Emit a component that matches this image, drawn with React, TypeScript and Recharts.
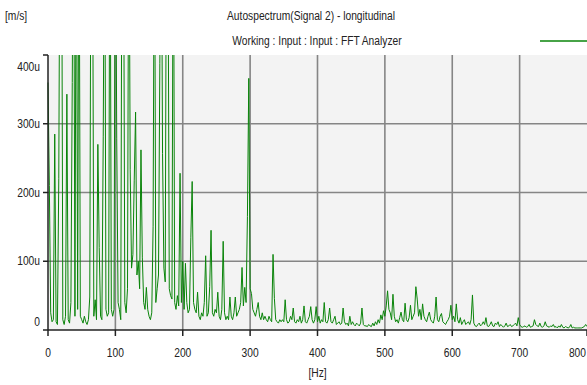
import React from 'react';
import { LineChart, Line, XAxis, YAxis, CartesianGrid } from 'recharts';

// Autospectrum amplitude in u(m/s), one value every HZ_STEP hertz from 0 to 800 Hz.
const HZ_STEP = 2;

const amp0to50 = [360, 210, 25, 12, 15, 285, 12, 8, 220, 700, 700, 15, 8, 20, 343, 15, 10, 40, 360, 700, 20, 700, 30, 700, 20];
const amp50to100 = [15, 10, 20, 12, 8, 15, 48, 700, 650, 20, 44, 15, 270, 120, 20, 15, 282, 700, 30, 20, 25, 700, 30, 20, 30];
const amp100to150 = [700, 278, 40, 30, 15, 700, 650, 40, 25, 60, 700, 233, 90, 110, 218, 317, 80, 100, 60, 262, 106, 40, 30, 62, 30];
const amp150to200 = [20, 15, 25, 151, 700, 40, 60, 80, 388, 700, 257, 90, 70, 700, 600, 60, 50, 45, 700, 40, 30, 50, 35, 228, 40];
const amp200to250 = [100, 30, 97, 40, 25, 30, 135, 216, 40, 30, 25, 55, 20, 15, 25, 20, 40, 108, 20, 25, 63, 145, 25, 20, 30];
const amp250to300 = [25, 55, 20, 15, 30, 129, 25, 15, 20, 15, 48, 20, 15, 25, 48, 20, 25, 30, 40, 91, 35, 62, 40, 165, 366];
const amp300to350 = [60, 53, 30, 25, 20, 30, 40, 20, 15, 25, 15, 20, 15, 12, 20, 15, 12, 110, 46, 15, 12, 10, 15, 12, 15];
const amp350to400 = [12, 44, 15, 10, 12, 20, 15, 32, 12, 10, 15, 12, 20, 10, 15, 35, 12, 10, 15, 20, 34, 15, 10, 15, 34];
const amp400to450 = [12, 20, 10, 15, 12, 40, 12, 10, 15, 32, 12, 10, 15, 20, 8, 10, 12, 8, 10, 32, 12, 8, 10, 6, 20];
const amp450to500 = [8, 12, 8, 6, 10, 8, 6, 10, 32, 8, 6, 6, 5, 8, 6, 5, 10, 6, 12, 8, 15, 10, 22, 15, 28];
const amp500to550 = [20, 35, 57, 30, 25, 15, 52, 20, 12, 15, 10, 18, 26, 15, 12, 39, 15, 12, 18, 36, 15, 20, 25, 63, 45];
const amp550to600 = [20, 30, 15, 38, 20, 15, 12, 20, 26, 15, 12, 10, 20, 48, 15, 12, 20, 24, 12, 10, 8, 12, 15, 20, 36];
const amp600to650 = [15, 20, 12, 38, 15, 10, 18, 8, 12, 15, 8, 10, 12, 8, 15, 51, 10, 6, 5, 8, 10, 6, 8, 12, 8];
const amp650to700 = [18, 6, 5, 8, 12, 6, 5, 10, 8, 12, 5, 8, 6, 4, 6, 10, 5, 6, 8, 5, 6, 8, 10, 6, 18];
const amp700to750 = [8, 5, 4, 5, 6, 4, 5, 8, 4, 5, 6, 15, 8, 6, 5, 10, 5, 4, 6, 12, 6, 5, 4, 6, 5];
const amp750to800 = [8, 4, 5, 3, 6, 4, 8, 4, 3, 5, 4, 3, 4, 8, 3, 4, 3, 3, 3, 3, 3, 3, 4, 5, 8, 5];

const amplitudes = [
  ...amp0to50, ...amp50to100, ...amp100to150, ...amp150to200,
  ...amp200to250, ...amp250to300, ...amp300to350, ...amp350to400,
  ...amp400to450, ...amp450to500, ...amp500to550, ...amp550to600,
  ...amp600to650, ...amp650to700, ...amp700to750, ...amp750to800,
];

const xTicks = [0, 100, 200, 300, 400, 500, 600, 700, 800];
const yTicks = [0, 100, 200, 300, 400];

const title = 'Autospectrum(Signal 2) - longitudinal';
const subtitle = 'Working : Input : Input : FFT Analyzer';
const yUnit = '[m/s]';
const xUnit = '[Hz]';

const data = amplitudes.map((v, i) => ({ hz: i * HZ_STEP, v }));

const FONT = "'Liberation Sans', Arial, sans-serif";
const TEXT = '#222';
const GREEN = '#0a840a';
const NARROW = 0.82;

// Arial-style text squeezed horizontally to a narrow face.
const NarrowText = ({ x, y, anchor = 'start', size = 12.5, children }: any) => (
  <g transform={`translate(${x},${y}) scale(${NARROW},1)`}>
    <text x={0} y={0} textAnchor={anchor} fontSize={size} fontFamily={FONT} fill={TEXT}>
      {children}
    </text>
  </g>
);

const YTick = (props: any) => {
  const { x, y, payload } = props;
  const v = payload.value as number;
  let dy = 4;
  if (v === 400) dy = 16;
  if (v === 0) dy = -4;
  return (
    <NarrowText x={x} y={y + dy} anchor="end">
      {v === 0 ? '0' : `${v}u`}
    </NarrowText>
  );
};

const XTick = (props: any) => {
  const { x, y, payload } = props;
  const v = payload.value as number;
  const last = v === 800;
  return (
    <NarrowText x={last ? 586 : x} y={y + 19} anchor={last ? 'end' : 'middle'}>
      {String(v)}
    </NarrowText>
  );
};

const XUnitLabel = (props: any) => {
  const vb = props.viewBox || {};
  const cx = (vb.x ?? 48) + (vb.width ?? 539) / 2;
  const bottom = (vb.y ?? 330) + (vb.height ?? 55);
  return (
    <NarrowText x={cx} y={bottom - 8} anchor="middle">
      {xUnit}
    </NarrowText>
  );
};

export default function App() {
  return (
    <div style={{ position: 'absolute', left: 0, top: 0, width: 587, height: 385, background: '#fff' }}>
      <LineChart
        width={587}
        height={385}
        data={data}
        margin={{ top: 55, right: 0, bottom: 0, left: 0 }}
      >
        <CartesianGrid
          fill="#f3f3f3"
          stroke="#858585"
          strokeWidth={1.6}
          horizontalValues={[100, 200, 300]}
          verticalValues={[100, 200, 300, 400, 500, 600, 700]}
        />
        <XAxis
          dataKey="hz"
          type="number"
          domain={[0, 800]}
          ticks={xTicks}
          interval={0}
          height={55}
          tickSize={6}
          tickMargin={2}
          stroke="#222"
          strokeWidth={1.5}
          tick={<XTick />}
          label={<XUnitLabel />}
        />
        <YAxis
          type="number"
          domain={[0, 400]}
          allowDataOverflow
          ticks={yTicks}
          interval={0}
          width={48}
          tickSize={5}
          tickMargin={3}
          stroke="#222"
          strokeWidth={1.5}
          tick={<YTick />}
        />
        <Line
          type="linear"
          dataKey="v"
          stroke={GREEN}
          strokeWidth={1}
          dot={false}
          activeDot={false}
          isAnimationActive={false}
        />
      </LineChart>
      <svg width={587} height={55} style={{ position: 'absolute', left: 0, top: 0 }}>
        <NarrowText x={5} y={20}>{yUnit}</NarrowText>
        <NarrowText x={311} y={20} anchor="middle">{title}</NarrowText>
        <NarrowText x={317} y={45} anchor="middle">{subtitle}</NarrowText>
        <line x1={540} y1={41} x2={587} y2={41} stroke={GREEN} strokeWidth={1.5} />
      </svg>
    </div>
  );
}
